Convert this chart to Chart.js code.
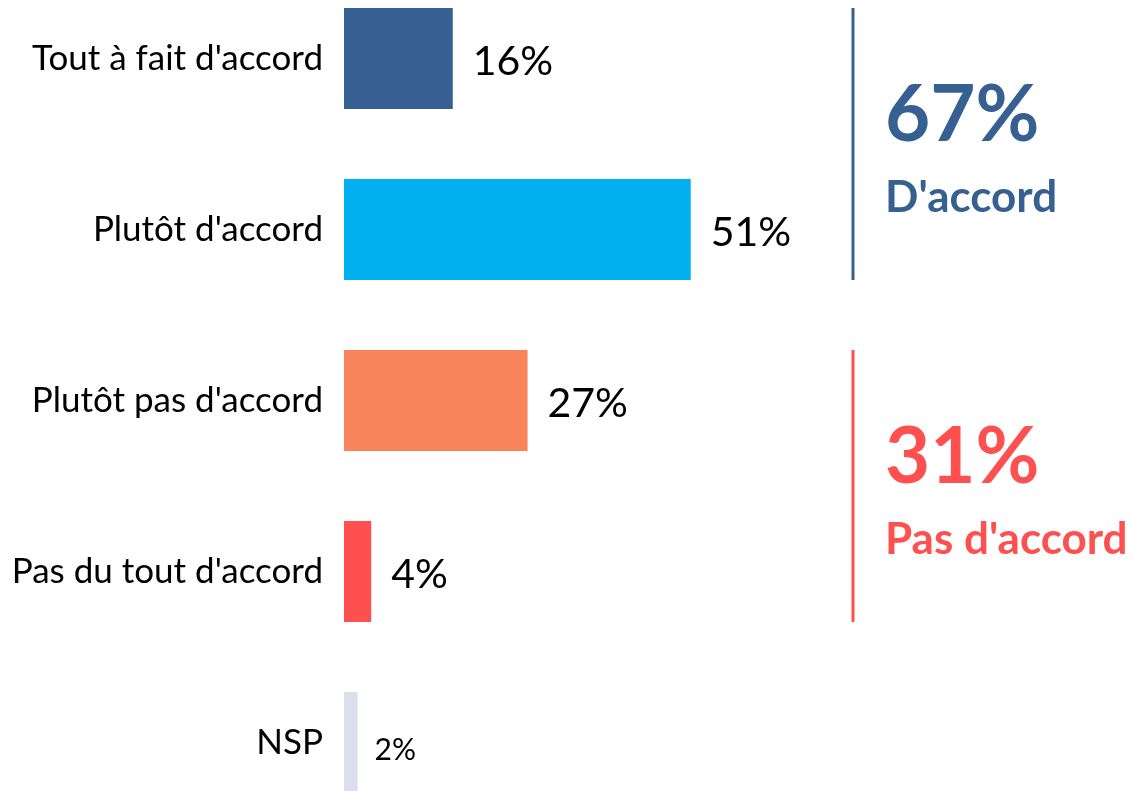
<!DOCTYPE html>
<html>
<head>
<meta charset="utf-8">
<script src="https://cdn.jsdelivr.net/npm/chart.js@4/dist/chart.umd.min.js"></script>
<style>
  html, body { margin: 0; padding: 0; background: #fff; overflow: hidden; width: 1134px; height: 791px; }
  #wrap { position: absolute; left: 0; top: -69px; width: 1134px; height: 939px; }
</style>
</head>
<body>
<div id="wrap"><canvas id="c" width="1134" height="939"></canvas></div>
<script>
const categories = ["Tout à fait d'accord", "Plutôt d'accord", "Plutôt pas d'accord", "Pas du tout d'accord", "NSP"];
const values = [16, 51, 27, 4, 2];
const valueLabels = ["16%", "51%", "27%", "4%", "2%"];
const barColors = ["#376092", "#00B0F0", "#F8845C", "#FF5050", "#DCDFEC"];
const groupLabels = ["D'accord", "Pas d'accord"];
const groupValues = ["67%", "31%"];
const groupRanges = [[0, 1], [2, 3]];
const groupColors = ["#376092", "#FF5050"];

const FONT = "Lato, 'Open Sans', sans-serif";

const valueLabelPlugin = {
  id: 'valueLabels',
  afterDatasetsDraw(chart) {
    const ctx = chart.ctx;
    const meta = chart.getDatasetMeta(0);
    ctx.save();
    ctx.fillStyle = '#000';
    ctx.textBaseline = 'middle';
    ctx.textAlign = 'left';
    meta.data.forEach((bar, i) => {
      const small = i === 4;
      ctx.font = (small ? '30px ' : '41px ') + FONT;
      ctx.fillText(valueLabels[i], bar.x + (small ? 17 : 20), bar.y + (small ? 8 : 3));
    });
    ctx.restore();
  }
};

const groupPlugin = {
  id: 'groups',
  afterDatasetsDraw(chart) {
    const ctx = chart.ctx;
    const meta = chart.getDatasetMeta(0);
    const lineX = 853;
    const textX = 885;
    ctx.save();
    groupRanges.forEach((r, g) => {
      const b0 = meta.data[r[0]], b1 = meta.data[r[1]];
      const top = b0.y - b0.height / 2;
      const bottom = b1.y + b1.height / 2;
      const mid = (top + bottom) / 2;
      ctx.strokeStyle = groupColors[g];
      ctx.lineWidth = 3;
      ctx.beginPath();
      ctx.moveTo(lineX, top);
      ctx.lineTo(lineX, bottom);
      ctx.stroke();
      ctx.fillStyle = groupColors[g];
      ctx.textAlign = 'left';
      ctx.textBaseline = 'middle';
      ctx.font = 'bold 78px ' + FONT;
      ctx.fillText(groupValues[g], textX, mid - 28);
      ctx.font = 'bold 44px ' + FONT;
      ctx.fillText(groupLabels[g], textX, mid + 54);
    });
    ctx.restore();
  }
};

new Chart(document.getElementById('c'), {
  type: 'bar',
  data: {
    labels: categories,
    datasets: [{
      data: values,
      backgroundColor: barColors,
      borderWidth: 0,
      barPercentage: 0.59,
      categoryPercentage: 1
    }]
  },
  options: {
    indexAxis: 'y',
    responsive: false,
    animation: false,
    events: [],
    layout: { padding: 0 },
    plugins: { legend: { display: false }, tooltip: { enabled: false }, title: { display: false } },
    scales: {
      x: { display: false, min: 0, max: 116.2 },
      y: {
        grid: { display: false, drawTicks: false },
        border: { display: false },
        ticks: { color: '#000', font: { family: FONT, size: 35 }, padding: 21 },
        afterFit(scale) { scale.width = 344; }
      }
    }
  },
  plugins: [valueLabelPlugin, groupPlugin]
});
</script>
</body>
</html>
